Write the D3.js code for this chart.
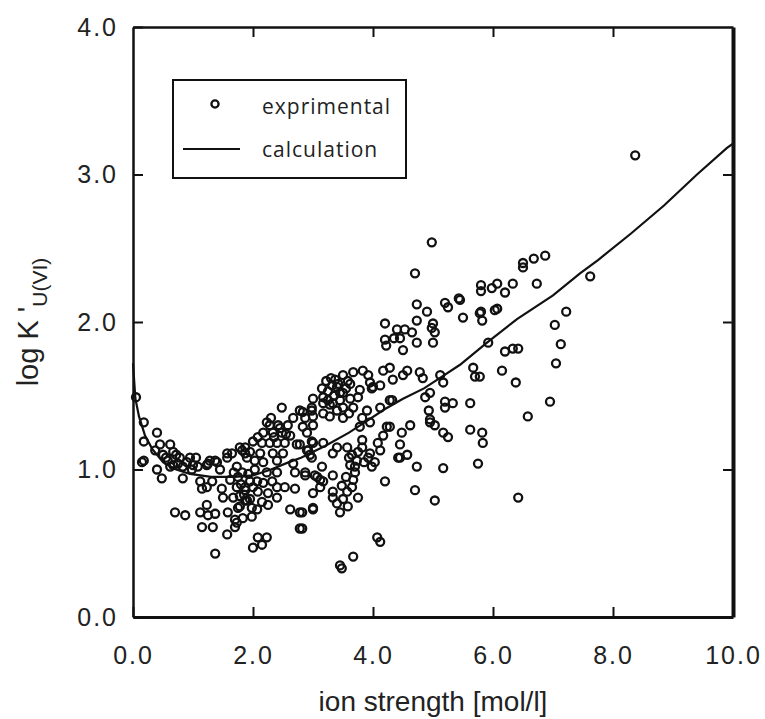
<!DOCTYPE html>
<html>
<head>
<meta charset="utf-8">
<script src="https://cdn.jsdelivr.net/npm/d3@7"></script>
<style>
  body { margin: 0; background: #fff; }
  svg { display: block; }
</style>
</head>
<body>
<div id="chart"></div>
<script>
// experimental points (ion strength mol/l, log K')
var ionStrength = [
  0.05,0.18,0.18,0.18,0.40,0.45,0.37,0.50,0.40,0.48,0.62,0.67,0.58,0.67,0.78,0.83,0.90,0.83,0.70,0.87,
  1.00,1.08,1.12,1.15,1.23,1.23,1.32,1.28,1.40,1.45,1.57,1.12,1.23,1.37,1.25,1.15,1.33,1.57,1.37,1.48,
  1.50,1.62,1.58,1.73,1.67,1.78,1.73,1.87,1.82,1.70,1.75,1.87,1.87,1.70,0.15,
  2.48,3.15,3.00,2.83,2.98,2.67,2.83,3.00,2.23,2.28,2.42,2.17,2.33,2.48,2.62,2.08,2.00,2.15,2.28,2.40,
  2.53,2.73,2.33,2.50,2.12,2.98,2.92,2.98,3.17,3.15,1.87,1.95,1.82,1.65,1.57,1.37,1.25,2.03,1.90,2.17,
  2.40,2.67,2.70,2.87,3.03,3.12,2.40,2.23,2.07,2.17,2.32,2.40,2.53,2.70,1.95,1.87,2.08,2.25,2.40,2.15,
  2.25,1.90,1.78,1.98,2.07,3.00,2.62,2.78,3.00,2.78,1.98,1.83,1.73,2.08,2.23,2.00,2.15,3.12,
  4.73,4.90,5.20,5.25,5.45,5.50,5.78,5.82,6.03,4.20,4.73,4.53,4.65,5.00,5.03,4.45,4.20,4.22,4.73,5.00,
  4.50,4.17,4.28,4.33,4.57,4.50,4.78,4.83,5.12,5.17,5.67,5.70,6.15,5.92,3.83,3.67,3.50,3.92,3.95,4.00,
  4.12,3.98,3.37,3.32,3.40,3.25,3.17,3.78,3.75,3.62,2.98,3.25,3.45,3.33,3.50,3.67,2.78,2.87,3.00,3.17,
  3.28,3.50,4.28,4.12,3.82,3.78,3.95,4.28,4.48,4.62,4.45,4.57,4.42,4.23,4.17,4.08,4.12,3.95,4.03,3.98,
  3.82,3.82,3.92,3.73,3.70,3.62,3.70,3.67,3.57,3.40,3.33,3.00,2.90,2.95,2.78,2.87,3.07,3.17,3.33,3.48,
  3.57,3.33,3.33,3.40,3.58,3.45,3.75,3.00,2.82,2.82,4.20,4.45,4.73,4.70,5.03,5.17,5.75,5.62,5.82,5.83,
  5.62,5.20,5.33,4.87,4.93,4.95,5.03,5.17,5.25,4.07,4.12,3.67,3.45,3.48,
  4.98,4.70,6.50,6.50,6.68,6.87,6.73,6.33,6.07,5.80,5.98,5.80,6.20,5.43,6.07,5.80,7.22,7.03,7.13,7.05,
  4.98,6.20,6.33,6.42,8.37,7.62,6.95,6.58,6.42,6.38,5.78,5.20,4.95,4.95,4.32,3.62,3.50,3.17,2.90,3.90,
  3.22,3.30,3.42,3.45,3.55,3.58,3.35,3.28,3.40,3.60,1.75,1.80,1.85,1.92,1.78,2.00,1.95,2.03,1.68,2.35,
  2.45,2.55,2.30,2.58,0.55,0.62,0.72,0.75,0.95,0.98,1.05,3.65,3.75,3.60,3.85,3.55,3.65,3.50,4.35,4.40
];
var logK = [
  1.49,1.32,1.19,1.06,1.25,1.17,1.13,1.10,1.00,0.94,1.17,1.12,1.06,1.03,1.08,1.02,1.05,0.94,0.71,0.69,
  1.03,1.02,0.92,0.87,1.03,0.88,0.92,1.06,1.05,1.00,1.11,0.71,0.76,0.70,0.69,0.61,0.61,0.56,0.43,0.87,
  0.81,0.93,0.71,0.88,0.81,1.15,1.02,1.11,0.98,0.66,0.74,0.88,0.79,0.61,1.05,
  1.42,1.55,1.48,1.39,1.40,1.35,1.29,1.30,1.32,1.30,1.30,1.25,1.25,1.25,1.23,1.22,1.19,1.18,1.18,1.18,
  1.18,1.17,1.11,1.11,1.11,1.19,1.13,1.08,1.18,1.02,1.15,1.12,1.13,1.11,1.08,1.06,1.04,1.06,1.08,1.05,
  1.06,1.04,0.98,0.98,0.96,0.93,0.98,0.98,0.92,0.91,0.92,0.88,0.88,0.87,0.92,0.86,0.85,0.84,0.81,0.78,
  0.76,0.79,0.75,0.74,0.73,0.84,0.73,0.71,0.74,0.60,0.68,0.67,0.64,0.54,0.54,0.47,0.49,0.88,
  2.12,2.07,2.13,2.10,2.15,2.03,2.06,2.01,2.08,1.99,2.01,1.95,1.93,1.99,1.93,1.89,1.88,1.84,1.86,1.86,
  1.81,1.67,1.69,1.61,1.67,1.64,1.66,1.62,1.64,1.59,1.69,1.63,1.67,1.86,1.67,1.66,1.64,1.64,1.59,1.56,
  1.57,1.55,1.61,1.57,1.56,1.53,1.49,1.54,1.49,1.48,1.42,1.47,1.47,1.45,1.42,1.42,1.40,1.35,1.36,1.38,
  1.36,1.35,1.47,1.42,1.35,1.29,1.32,1.29,1.25,1.30,1.17,1.10,1.08,1.29,1.23,1.18,1.13,1.11,1.05,1.02,
  1.20,1.15,1.08,1.06,1.02,1.03,0.98,0.93,1.15,1.15,1.11,1.18,1.13,1.10,1.17,0.96,0.95,0.92,0.96,0.89,
  0.85,0.85,0.81,0.77,0.75,0.71,0.81,0.73,0.71,0.60,0.92,1.08,1.02,0.86,0.79,1.01,1.04,1.27,1.25,1.18,
  1.45,1.46,1.45,1.49,1.40,1.32,1.30,1.25,1.22,0.54,0.51,0.41,0.35,0.33,
  2.54,2.33,2.40,2.37,2.43,2.45,2.26,2.26,2.26,2.25,2.23,2.21,2.20,2.16,2.09,2.07,2.07,1.98,1.85,1.72,
  1.96,1.80,1.82,1.82,3.13,2.31,1.46,1.36,0.81,1.59,1.63,1.42,1.52,1.34,1.47,1.58,1.52,1.45,1.25,1.40,
  1.60,1.62,1.58,1.52,1.55,1.60,1.50,1.44,1.40,1.38,0.95,0.90,0.83,0.97,0.82,0.88,0.80,1.00,0.98,1.22,
  1.28,1.24,1.35,1.30,1.08,1.02,1.10,1.04,1.08,1.00,1.08,1.10,1.12,1.08,1.05,0.95,0.88,0.80,1.89,1.95
];

// calculated curve
var calcIon  = [0, 0.04, 0.1, 0.2, 0.32, 0.5, 0.72, 0.95, 1.3, 1.7, 2.0, 2.3, 2.6, 2.8, 3.2, 3.6, 3.9, 4.2, 4.5, 4.85, 5.15, 5.45, 5.9, 6.4, 7.0, 7.45, 7.75, 8.3, 8.85, 9.4, 9.9, 10];
var calcLogK = [1.72, 1.48, 1.36, 1.23, 1.14, 1.05, 1.00, 0.97, 0.95, 0.95, 0.96, 1.00, 1.05, 1.08, 1.16, 1.25, 1.33, 1.41, 1.48, 1.55, 1.63, 1.71, 1.86, 2.02, 2.18, 2.33, 2.42, 2.60, 2.79, 3.00, 3.18, 3.21];

var xTicks = [0, 2, 4, 6, 8, 10];
var yTicks = [0, 1, 2, 3, 4];
var legendLabels = ['exprimental', 'calculation'];

var W = 765, H = 719;
var padL = 133, padR = 733, padT = 27, padB = 617;

var svg = d3.select('#chart')
  .append('svg')
  .attr('width', W)
  .attr('height', H);

var x = d3.scaleLinear().domain([0, 10]).range([padL, padR]);
var y = d3.scaleLinear().domain([0, 4]).range([padB, padT]);
var fmt = d3.format('.1f');

function styleAxis(g, w) {
  g.select('.domain').attr('stroke', '#111').attr('stroke-width', w);
  g.selectAll('.tick line').attr('stroke', '#111').attr('stroke-width', 2);
  g.selectAll('.tick text')
    .attr('fill', '#222')
    .style('font-family', '"Liberation Sans", Arial, sans-serif')
    .style('font-size', '25px')
    .style('letter-spacing', '2px');
}

// bottom axis with labels
svg.append('g')
  .attr('transform', 'translate(0,' + padB + ')')
  .call(d3.axisBottom(x).tickValues(xTicks).tickFormat(fmt).tickSizeInner(-10).tickSizeOuter(0).tickPadding(29))
  .call(function(g) { styleAxis(g, 3); });

// left axis with labels
svg.append('g')
  .attr('transform', 'translate(' + padL + ',0)')
  .call(d3.axisLeft(y).tickValues(yTicks).tickFormat(fmt).tickSizeInner(-10).tickSizeOuter(0).tickPadding(15))
  .call(function(g) { styleAxis(g, 2.5); });

// top + right frame with inward ticks
svg.append('g')
  .attr('transform', 'translate(0,' + padT + ')')
  .call(d3.axisTop(x).tickValues([2, 4, 6, 8]).tickFormat('').tickSizeInner(-10).tickSizeOuter(0))
  .call(function(g) { styleAxis(g, 2.5); });

svg.append('g')
  .attr('transform', 'translate(' + padR + ',0)')
  .call(d3.axisRight(y).tickValues([1, 2, 3]).tickFormat('').tickSizeInner(-10).tickSizeOuter(0))
  .call(function(g) { styleAxis(g, 4); });

// calculation curve
var line = d3.line()
  .x(function(d) { return x(d[0]); })
  .y(function(d) { return y(d[1]); });

svg.append('path')
  .datum(d3.zip(calcIon, calcLogK))
  .attr('d', line)
  .attr('fill', 'none')
  .attr('stroke', '#111')
  .attr('stroke-width', 2.2);

// experimental points
svg.append('g')
  .selectAll('circle')
  .data(d3.zip(ionStrength, logK))
  .enter()
  .append('circle')
  .attr('cx', function(d) { return x(d[0]); })
  .attr('cy', function(d) { return y(d[1]); })
  .attr('r', 4)
  .attr('fill', 'none')
  .attr('stroke', '#111')
  .attr('stroke-width', 2.3);

// legend
var legend = svg.append('g');
legend.append('rect')
  .attr('x', 173).attr('y', 80)
  .attr('width', 233).attr('height', 98)
  .attr('fill', 'none')
  .attr('stroke', '#111')
  .attr('stroke-width', 2);
legend.append('circle')
  .attr('cx', 215).attr('cy', 104).attr('r', 3.6)
  .attr('fill', 'none').attr('stroke', '#111').attr('stroke-width', 2.3);
legend.append('line')
  .attr('x1', 183).attr('x2', 240).attr('y1', 149).attr('y2', 149)
  .attr('stroke', '#111').attr('stroke-width', 2);
legend.selectAll('text')
  .data(legendLabels)
  .enter()
  .append('text')
  .attr('x', 262)
  .attr('y', function(d, i) { return 114 + i * 43; })
  .text(function(d) { return d; })
  .attr('fill', '#222')
  .style('font-family', '"Open Sans", sans-serif')
  .style('font-size', '21px')
  .style('letter-spacing', '1px');

// axis titles
svg.append('text')
  .attr('x', 433).attr('y', 711)
  .attr('text-anchor', 'middle')
  .attr('fill', '#222')
  .style('font-family', '"Liberation Sans", Arial, sans-serif')
  .style('font-size', '28px')
  .text('ion strength [mol/l]');

var yt = svg.append('text')
  .attr('transform', 'translate(38,322) rotate(-90)')
  .attr('text-anchor', 'middle')
  .attr('fill', '#222')
  .style('font-family', '"Liberation Sans", Arial, sans-serif')
  .style('font-size', '29px');
yt.append('tspan').text("log K '");
yt.append('tspan').attr('dy', 9).style('font-size', '21px').text('U(VI)');
</script>
</body>
</html>
